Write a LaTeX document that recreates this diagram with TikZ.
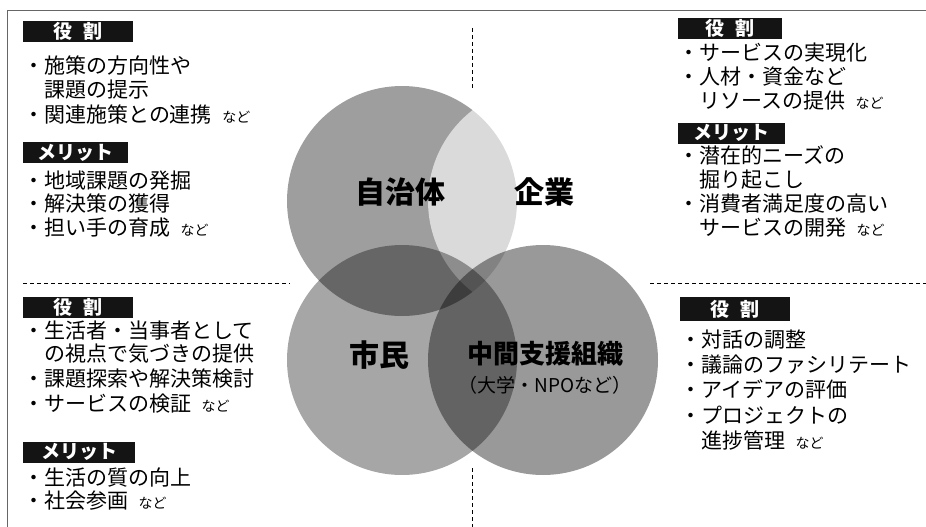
\documentclass[tikz,border=0pt]{standalone}
\usepackage{fontspec}
\newfontfamily\jp{Noto Sans CJK JP}
\begin{document}
\begin{tikzpicture}[x=1pt,y=-1pt,
  li/.style={anchor=west, inner sep=0pt, text height=0.76em, text depth=0pt, font=\jp\fontsize{21}{24}\selectfont},
  hd/.style={fill=black!92, text=white, inner sep=0pt, minimum height=21pt, font=\jp\bfseries\fontsize{19}{21}\selectfont},
  lab/.style={inner sep=0pt, text height=0.76em, text depth=0pt, font=\jp\bfseries\fontsize{30}{30}\selectfont},
  venn/.style={circle, inner sep=0pt, minimum size=230pt},
  dl/.style={black, line width=0.8pt, dash pattern=on 4pt off 3pt},
  frm/.style={black!60, line width=0.7pt}
]
\newcommand{\nd}{\hspace{0.5em}{\fontsize{14}{14}\selectfont など}}
\useasboundingbox (0,0) rectangle (926,527);
\fill[white] (0,0) rectangle (926,527);

% frame
\coordinate (f1) at (7,527);
\coordinate (f2) at (7,10);
\coordinate (f3) at (926,10);
\draw[frm] (f1) -- (f2) -- (f3);

% Venn circles
\node[venn, fill=black, fill opacity=0.38] (A) at (402,201) {};
\node[venn, fill=white, fill opacity=0.62] (B) at (543,201) {};
\node[venn, fill=black, fill opacity=0.35] (C) at (402,360) {};
\node[venn, fill=black, fill opacity=0.40] (D) at (543,360) {};

% circle labels
\node[lab] (la) at (400,200) {自治体};
\node[lab] (lb) at (544,200) {企業};
\node[lab] (lc) at (379,363) {市民};
\node[lab, font=\jp\bfseries\fontsize{26}{26}\selectfont] (ld) at (545,360) {中間支援組織};
\node[lab, font=\jp\fontsize{19}{19}\selectfont] (ld2) at (545,389) {（大学・NPOなど）};

% dashed separators
\coordinate (v1) at (472,28);
\coordinate (v2) at (472,88);
\coordinate (v3) at (472,468);
\coordinate (v4) at (472,527);
\coordinate (h1) at (23,283);
\coordinate (h2) at (290,283);
\coordinate (h3) at (650,283);
\coordinate (h4) at (926,283);
\draw[dl] (v1) -- (v2);
\draw[dl] (v3) -- (v4);
\draw[dl] (h1) -- (h2);
\draw[dl] (h3) -- (h4);

% top-left panel
\node[hd, minimum width=110pt] (tlh1) at (78,31.5) {役\hspace{12pt}割};
\node[li] (tl1) at (23,70) {・施策の方向性や};
\node[li] (tl2) at (44,94) {課題の提示};
\node[li] (tl3) at (23,119) {・関連施策との連携\nd};
\node[hd, minimum width=105pt] (tlh2) at (75.5,152.5) {メリット};
\node[li] (tl4) at (23,185) {・地域課題の発掘};
\node[li] (tl5) at (23,208) {・解決策の獲得};
\node[li] (tl6) at (23,232) {・担い手の育成\nd};

% top-right panel
\node[hd, minimum width=104pt] (trh1) at (730,28.5) {役\hspace{12pt}割};
\node[li] (tr1) at (678,57) {・サービスの実現化};
\node[li] (tr2) at (678,81) {・人材・資金など};
\node[li] (tr3) at (699,105) {リソースの提供\nd};
\node[hd, minimum width=107pt] (trh2) at (731.5,133) {メリット};
\node[li] (tr4) at (678,160) {・潜在的ニーズの};
\node[li] (tr5) at (699,184) {掘り起こし};
\node[li] (tr6) at (678,208) {・消費者満足度の高い};
\node[li] (tr7) at (699,232) {サービスの開発\nd};

% bottom-left panel
\node[hd, minimum width=110pt] (blh1) at (78,307.5) {役\hspace{12pt}割};
\node[li] (bl1) at (23,335) {・生活者・当事者として};
\node[li] (bl2) at (44,358) {の視点で気づきの提供};
\node[li] (bl3) at (23,383) {・課題探索や解決策検討};
\node[li] (bl4) at (23,408) {・サービスの検証\nd};
\node[hd, minimum width=112pt] (blh2) at (79,452) {メリット};
\node[li] (bl5) at (23,482) {・生活の質の向上};
\node[li] (bl6) at (23,505) {・社会参画\nd};

% bottom-right panel
\node[hd, minimum width=110pt, minimum height=24pt] (brh1) at (735,309) {役\hspace{12pt}割};
\node[li] (br1) at (680,344) {・対話の調整};
\node[li] (br2) at (680,369) {・議論のファシリテート};
\node[li] (br3) at (680,394) {・アイデアの評価};
\node[li] (br4) at (680,420) {・プロジェクトの};
\node[li] (br5) at (701,445) {進捗管理\nd};
\end{tikzpicture}
\end{document}
